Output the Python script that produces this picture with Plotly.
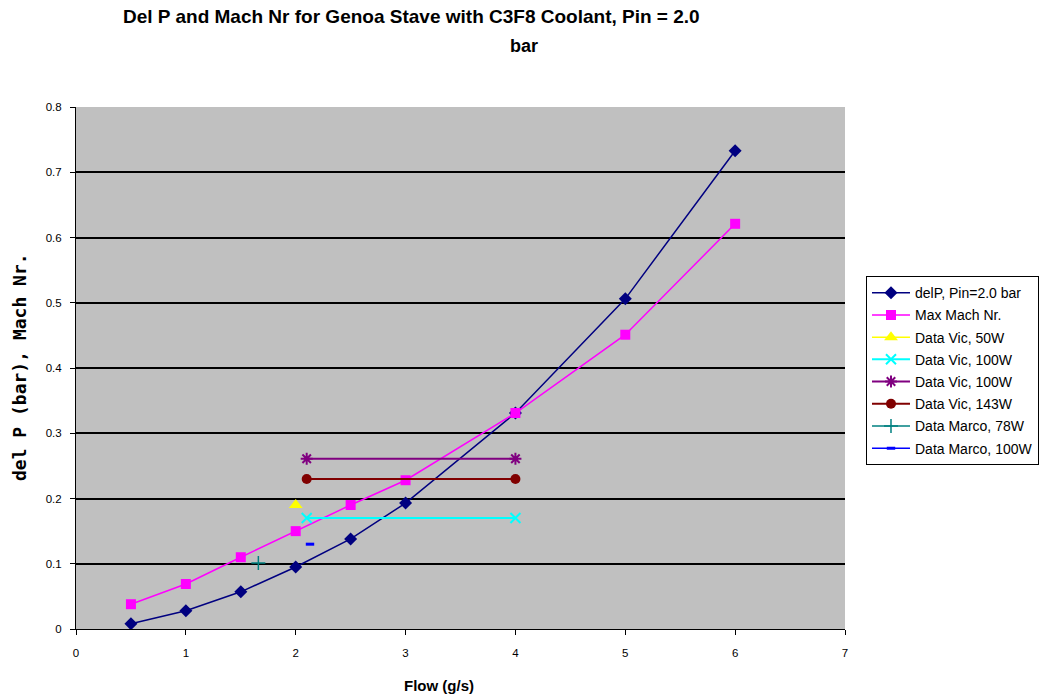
import plotly.graph_objects as go

# Flow rates (g/s) and model curves
flow = [0.5, 1, 1.5, 2, 2.5, 3, 4, 5, 6]
del_p = [0.008, 0.028, 0.057, 0.095, 0.138, 0.193, 0.331, 0.506, 0.733]
mach = [0.038, 0.069, 0.110, 0.150, 0.190, 0.228, 0.331, 0.451, 0.621]

# Measured points
vic50_x = [2.0]
vic50_y = [0.19]
vic100a_x = [2.1, 4.0]
vic100a_y = [0.17, 0.17]
vic100b_x = [2.1, 4.0]
vic100b_y = [0.261, 0.261]
vic143_x = [2.1, 4.0]
vic143_y = [0.23, 0.23]
marco78_x = [1.66]
marco78_y = [0.101]
marco100_x = [2.13]
marco100_y = [0.13]

y_ticks = [0, 0.1, 0.2, 0.3, 0.4, 0.5, 0.6, 0.7, 0.8]
y_tick_text = ["0", "0.1", "0.2", "0.3", "0.4", "0.5", "0.6", "0.7", "0.8"]
x_ticks = [0, 1, 2, 3, 4, 5, 6, 7]

fig = go.Figure()

def add(name, x, y, color, symbol, size, lw=1.5, mline=None):
    marker = dict(color=color, symbol=symbol, size=size)
    if mline is not None:
        marker["line"] = dict(color=color, width=mline)
    fig.add_trace(go.Scatter(x=x, y=y, name=name, mode="lines+markers",
                             legendgroup=name + symbol,
                             line=dict(color=color, width=lw), marker=marker))

add("delP, Pin=2.0 bar", flow, del_p, "#000080", "diamond", 10)
add("Max Mach Nr.", flow, mach, "#FF00FF", "square", 10)
add("Data Vic, 50W", vic50_x, vic50_y, "#FFFF00", "triangle-up", 12)
add("Data Vic, 100W", vic100a_x, vic100a_y, "#00FFFF", "x-thin", 10, 2, 2)
add("Data Vic, 100W", vic100b_x, vic100b_y, "#800080", "asterisk", 10, 2, 2)
add("Data Vic, 143W", vic143_x, vic143_y, "#800000", "circle", 10, 2)
add("Data Marco, 78W", marco78_x, marco78_y, "#008080", "cross-thin", 10, 1.5, 1.5)
add("Data Marco, 100W", marco100_x, marco100_y, "#0000FF", "line-ew", 6, 1.5, 3)

font_main = "Liberation Sans, Arial, sans-serif"

fig.update_layout(
    width=1055, height=696,
    margin=dict(l=76, r=210, t=107, b=67),
    paper_bgcolor="white",
    plot_bgcolor="#C0C0C0",
    font=dict(family=font_main, size=12, color="black"),
    showlegend=True,
    legend=dict(x=1.0273, y=0.676, xanchor="left", yanchor="top",
                bgcolor="white", bordercolor="black", borderwidth=1,
                font=dict(family=font_main, size=14, color="black"),
                tracegroupgap=1, itemwidth=38, entrywidth=195),
    xaxis=dict(range=[0, 7], tickvals=x_ticks, ticks="outside", ticklen=5,
               tickcolor="black", showline=True, linecolor="black", linewidth=1,
               showgrid=False, zeroline=False, mirror=False,
               tickfont=dict(size=11.5), ticklabelstandoff=8),
    yaxis=dict(range=[0, 0.8], tickvals=y_ticks, ticktext=y_tick_text,
               ticks="outside", ticklen=5, tickcolor="black",
               showline=True, linecolor="black", linewidth=1,
               showgrid=True, gridcolor="black", gridwidth=2,
               zeroline=False, tickfont=dict(size=11.5), ticklabelstandoff=6),
    annotations=[
        dict(text="<b>Del P and Mach Nr for Genoa Stave with C3F8 Coolant, Pin = 2.0</b>",
             xref="paper", yref="paper", x=(411 - 76) / 769, y=1 + (107 - 17) / 522,
             xanchor="center", yanchor="middle", showarrow=False,
             font=dict(family=font_main, size=19)),
        dict(text="<b>bar</b>", xref="paper", yref="paper",
             x=(524 - 76) / 769, y=1 + (107 - 46) / 522,
             xanchor="center", yanchor="middle", showarrow=False,
             font=dict(family=font_main, size=18)),
        dict(text="<b>Flow (g/s)</b>", xref="paper", yref="paper",
             x=(439 - 76) / 769, y=-(685 - 629) / 522,
             xanchor="center", yanchor="middle", showarrow=False,
             font=dict(family=font_main, size=15)),
        dict(text="<b>del P (bar), Mach Nr.</b>", xref="paper", yref="paper",
             x=-(76 - 19) / 769, y=(629 - 367) / 522, textangle=-90,
             xanchor="center", yanchor="middle", showarrow=False,
             font=dict(family="DejaVu Sans Mono, monospace", size=18)),
    ],
)

fig.write_html("out.html")
